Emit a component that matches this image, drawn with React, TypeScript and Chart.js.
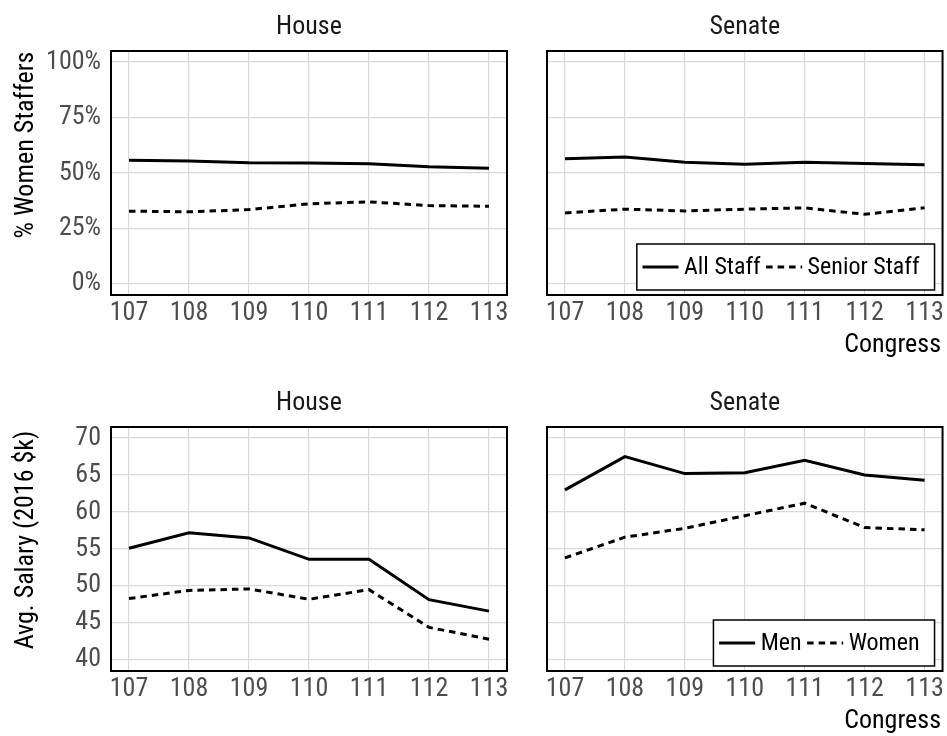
import React, { useEffect, useRef } from "react";
import { Chart, registerables } from "chart.js";

Chart.register(...registerables);

// ---------- data ----------
const congresses = [107, 108, 109, 110, 111, 112, 113];

const houseAllStaff = [55.7, 55.4, 54.6, 54.5, 54.2, 52.8, 52.1];
const houseSeniorStaff = [32.8, 32.5, 33.5, 36.1, 37.0, 35.3, 35.0];
const senateAllStaff = [56.4, 57.2, 54.8, 54.0, 54.9, 54.3, 53.7];
const senateSeniorStaff = [32.0, 33.7, 32.9, 33.7, 34.3, 31.4, 34.3];

const houseMenSalary = [55.1, 57.2, 56.5, 53.6, 53.6, 48.15, 46.6];
const houseWomenSalary = [48.3, 49.4, 49.6, 48.2, 49.5, 44.4, 42.8];
const senateMenSalary = [63.0, 67.5, 65.2, 65.3, 67.0, 65.0, 64.3];
const senateWomenSalary = [53.8, 56.6, 57.8, 59.5, 61.2, 57.9, 57.6];

const shareTicks = [0, 25, 50, 75, 100];
const salaryTicks = [40, 45, 50, 55, 60, 65, 70];

const shareSeriesLabels = ["All Staff", "Senior Staff"];
const salarySeriesLabels = ["Men", "Women"];
const panelTitles = ["House", "Senate"];
const shareAxisTitle = "% Women Staffers";
const salaryAxisTitle = "Avg. Salary (2016 $k)";
const xAxisTitle = "Congress";

// ---------- style ----------
const W = 947;
const H = 736;
const FONT = "'Roboto Condensed', Roboto, sans-serif";
const FS = 26;
const LEGEND_FS = 24;
const GRID = "#d9d9d9";
const TICK_COLOR = "#4d4d4d";
const DASH = [6.5, 5];

type Panel = {
  title: string;
  a: number[];
  b: number[];
  labels: string[];
  ticks: number[];
  yMin: number;
  yMax: number;
  pct: boolean;
  left: number;
  right: number;
  top: number;
  bottom: number;
  showY: boolean;
  yTitle?: string;
  yTitleCenter?: number;
  legend: boolean;
  xTitle: boolean;
};

const panels: Panel[] = [
  {
    title: panelTitles[0], a: houseAllStaff, b: houseSeniorStaff, labels: shareSeriesLabels,
    ticks: shareTicks, yMin: -5, yMax: 105, pct: true,
    left: 111, right: 507, top: 51, bottom: 295, showY: true,
    yTitle: shareAxisTitle, yTitleCenter: 145, legend: false, xTitle: false,
  },
  {
    title: panelTitles[1], a: senateAllStaff, b: senateSeniorStaff, labels: shareSeriesLabels,
    ticks: shareTicks, yMin: -5, yMax: 105, pct: true,
    left: 547, right: 943, top: 51, bottom: 295, showY: false,
    legend: true, xTitle: true,
  },
  {
    title: panelTitles[0], a: houseMenSalary, b: houseWomenSalary, labels: salarySeriesLabels,
    ticks: salaryTicks, yMin: 38.5, yMax: 71.5, pct: false,
    left: 111, right: 507, top: 427, bottom: 671, showY: true,
    yTitle: salaryAxisTitle, yTitleCenter: 540, legend: false, xTitle: false,
  },
  {
    title: panelTitles[1], a: senateMenSalary, b: senateWomenSalary, labels: salarySeriesLabels,
    ticks: salaryTicks, yMin: 38.5, yMax: 71.5, pct: false,
    left: 547, right: 943, top: 427, bottom: 671, showY: false,
    legend: true, xTitle: true,
  },
];

const Y_W = 100;
const X_H = 40;

function decoPlugin(p: Panel, idx: number) {
  return {
    id: "deco" + idx,
    afterDatasetsDraw(chart: any) {
      const { ctx, chartArea: a } = chart;
      ctx.save();
      // panel frame
      ctx.strokeStyle = "#000";
      ctx.lineWidth = 2;
      ctx.setLineDash([]);
      ctx.strokeRect(a.left, a.top, a.right - a.left, a.bottom - a.top);

      ctx.font = `${FS}px ${FONT}`;
      // strip title
      ctx.fillStyle = "#1a1a1a";
      ctx.textAlign = "center";
      ctx.textBaseline = "alphabetic";
      ctx.fillText(p.title, (a.left + a.right) / 2, a.top - 17);

      // y axis title
      if (p.yTitle) {
        ctx.save();
        ctx.fillStyle = "#000";
        ctx.translate(33, p.yTitleCenter || (a.top + a.bottom) / 2);
        ctx.rotate(-Math.PI / 2);
        ctx.textAlign = "center";
        ctx.fillText(p.yTitle, 0, 0);
        ctx.restore();
      }

      // x axis title
      if (p.xTitle) {
        ctx.fillStyle = "#000";
        ctx.textAlign = "right";
        ctx.fillText(xAxisTitle, 941, a.bottom + 57);
      }

      // legend
      if (p.legend) {
        ctx.font = `${LEGEND_FS}px ${FONT}`;
        const sample = 36;
        const gap = 5.5;
        const padL = 5.7;
        const padR = 15;
        const t1 = ctx.measureText(p.labels[0]).width;
        const t2 = ctx.measureText(p.labels[1]).width;
        const total = padL + sample + gap + t1 + gap + sample + gap + t2 + padR;
        const boxR = a.right - 8;
        const boxB = a.bottom - 5;
        const boxH = 46;
        const boxL = boxR - total;
        const cy = boxB - boxH / 2;
        ctx.fillStyle = "#fff";
        ctx.fillRect(boxL, boxB - boxH, total, boxH);
        ctx.strokeStyle = "#000";
        ctx.lineWidth = 1.5;
        ctx.strokeRect(boxL, boxB - boxH, total, boxH);

        let x = boxL + padL;
        ctx.lineWidth = 3;
        ctx.lineCap = "butt";
        ctx.beginPath();
        ctx.moveTo(x, cy);
        ctx.lineTo(x + sample, cy);
        ctx.stroke();
        x += sample + gap;
        ctx.fillStyle = "#000";
        ctx.textAlign = "left";
        ctx.textBaseline = "middle";
        ctx.fillText(p.labels[0], x, cy + 1);
        x += t1 + gap;
        ctx.setLineDash(DASH);
        ctx.beginPath();
        ctx.moveTo(x, cy);
        ctx.lineTo(x + sample, cy);
        ctx.stroke();
        ctx.setLineDash([]);
        x += sample + gap;
        ctx.fillText(p.labels[1], x, cy + 1);
      }
      ctx.restore();
    },
  };
}

function makeConfig(p: Panel, idx: number): any {
  const line = {
    borderColor: "#000",
    borderWidth: 3,
    pointRadius: 0,
    tension: 0,
    borderCapStyle: "butt",
    fill: false,
  };
  return {
    type: "line",
    data: {
      datasets: [
        { ...line, label: p.labels[0], data: congresses.map((x, i) => ({ x, y: p.a[i] })) },
        { ...line, label: p.labels[1], borderDash: DASH, data: congresses.map((x, i) => ({ x, y: p.b[i] })) },
      ],
    },
    options: {
      responsive: false,
      animation: false,
      devicePixelRatio: 1,
      layout: {
        padding: {
          left: p.left - (p.showY ? Y_W : 0),
          right: W - p.right,
          top: p.top,
          bottom: H - p.bottom - X_H,
        },
      },
      plugins: { legend: { display: false }, tooltip: { enabled: false }, title: { display: false } },
      scales: {
        x: {
          type: "linear",
          min: 106.7,
          max: 113.3,
          afterBuildTicks: (s: any) => {
            s.ticks = congresses.map((v) => ({ value: v }));
          },
          afterFit: (s: any) => {
            s.height = X_H;
          },
          grid: { color: GRID, lineWidth: 1.2, drawTicks: false },
          border: { display: false },
          ticks: {
            font: { family: FONT, size: FS },
            color: TICK_COLOR,
            padding: 3,
            maxRotation: 0,
            autoSkip: false,
            callback: (v: any) => String(v),
          },
        },
        y: {
          type: "linear",
          min: p.yMin,
          max: p.yMax,
          afterBuildTicks: (s: any) => {
            s.ticks = p.ticks.map((v) => ({ value: v }));
          },
          afterFit: (s: any) => {
            s.width = p.showY ? Y_W : 0;
          },
          grid: { color: GRID, lineWidth: 1.2, drawTicks: false },
          border: { display: false },
          ticks: {
            display: p.showY,
            font: { family: FONT, size: FS },
            color: TICK_COLOR,
            padding: 10,
            autoSkip: false,
            callback: (v: any) => (p.pct ? `${v}%` : String(v)),
          },
        },
      },
    },
    plugins: [decoPlugin(p, idx)],
  };
}

function PanelCanvas({ p, idx }: { p: Panel; idx: number }) {
  const ref = useRef<HTMLCanvasElement>(null);
  useEffect(() => {
    if (!ref.current) return;
    const chart = new Chart(ref.current, makeConfig(p, idx));
    return () => chart.destroy();
  }, []);
  return (
    <canvas
      ref={ref}
      width={W}
      height={H}
      style={{ position: "absolute", left: 0, top: 0, width: W, height: H }}
    />
  );
}

export default function App() {
  return (
    <div
      style={{
        position: "fixed",
        left: 0,
        top: 0,
        width: W,
        height: H,
        background: "#fff",
        overflow: "hidden",
      }}
    >
      {panels.map((p, i) => (
        <PanelCanvas key={i} p={p} idx={i} />
      ))}
    </div>
  );
}
